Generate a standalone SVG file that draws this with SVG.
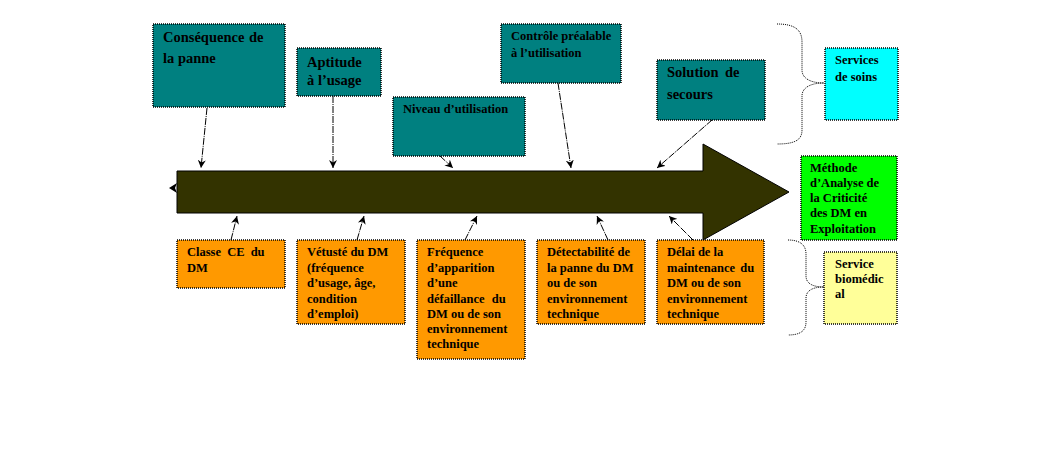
<svg xmlns="http://www.w3.org/2000/svg" width="1050" height="465" viewBox="0 0 1050 465">
<style>
.box{stroke:#000;stroke-width:1.5;stroke-dasharray:1 1}
.teal{fill:#008080}
.orange{fill:#FF9900}
text{font-family:"Liberation Serif","Times New Roman",serif;font-weight:bold;fill:#000}
.big{font-size:14.5px}
.sm{font-size:12.5px}
.conn line{stroke:#000;stroke-width:1;stroke-dasharray:7 1 1 1}
.brace{fill:none;stroke:#000;stroke-width:1;stroke-dasharray:1 1}
</style>
<defs>
<marker id="ah" viewBox="0 0 10 10" refX="10" refY="5" markerWidth="8" markerHeight="8" markerUnits="userSpaceOnUse" orient="auto">
<path d="M0,0 L10,5 L0,10 L3,5 Z" fill="#000"/>
</marker>
</defs>
<rect width="1050" height="465" fill="#fff"/>

<g id="main-arrow">
<polygon points="177,171 703,171 703,144 789,192 703,240 703,213 177,213" fill="#333300" stroke="#000" stroke-width="1"/>
<path d="M169,188 L177,183 L175,188 L177,193 Z" fill="#000"/>
</g>

<g id="n-consequence">
<rect class="box teal" x="153" y="24" width="132" height="83"/>
<text class="big" x="163" y="42">Conséquence <tspan x="249">de</tspan></text>
<text class="big" x="163" y="63">la panne</text>
</g>
<g id="n-aptitude">
<rect class="box teal" x="297" y="48" width="84" height="48"/>
<text class="big" x="307" y="67">Aptitude</text>
<text class="big" x="307" y="85">à l’usage</text>
</g>
<g id="n-niveau">
<rect class="box teal" x="393" y="97" width="132" height="59"/>
<text class="sm" x="403" y="113">Niveau d’utilisation</text>
</g>
<g id="n-controle">
<rect class="box teal" x="501" y="24" width="120" height="59"/>
<text class="sm" x="511" y="40">Contrôle préalable</text>
<text class="sm" x="511" y="57">à l’utilisation</text>
</g>
<g id="n-solution">
<rect class="box teal" x="657" y="60" width="108" height="60"/>
<text class="big" x="667" y="77">Solution <tspan x="725">de</tspan></text>
<text class="big" x="667" y="99">secours</text>
</g>
<g id="n-services-soins">
<rect class="box" fill="#00FFFF" x="825" y="48" width="73" height="72"/>
<text class="sm" x="835" y="64">Services</text>
<text class="sm" x="835" y="81">de soins</text>
</g>
<g id="n-methode">
<rect class="box" fill="#00FF00" x="801" y="156" width="96" height="84"/>
<text class="sm" x="810" y="172">Méthode</text>
<text class="sm" x="810" y="187">d’Analyse de</text>
<text class="sm" x="810" y="202">la Criticité</text>
<text class="sm" x="810" y="217">des DM en</text>
<text class="sm" x="810" y="233">Exploitation</text>
</g>
<g id="n-service-biomedical">
<rect class="box" fill="#FFFF99" x="824" y="252" width="73" height="72"/>
<text class="sm" x="835" y="268">Service</text>
<text class="sm" x="835" y="283">biomédic</text>
<text class="sm" x="835" y="298">al</text>
</g>

<g id="n-classe">
<rect class="box orange" x="177" y="240" width="108" height="48"/>
<text class="sm" x="187" y="256" word-spacing="3">Classe CE du</text>
<text class="sm" x="187" y="272">DM</text>
</g>
<g id="n-vetuste">
<rect class="box orange" x="297" y="240" width="108" height="84"/>
<text class="sm" x="307" y="256">Vétusté du DM</text>
<text class="sm" x="307" y="272">(fréquence</text>
<text class="sm" x="307" y="287">d’usage, âge,</text>
<text class="sm" x="307" y="303">condition</text>
<text class="sm" x="307" y="318">d’emploi)</text>
</g>
<g id="n-frequence">
<rect class="box orange" x="417" y="240" width="108" height="119"/>
<text class="sm" x="427" y="256">Fréquence</text>
<text class="sm" x="427" y="272">d’apparition</text>
<text class="sm" x="427" y="287">d’une</text>
<text class="sm" x="427" y="303" word-spacing="4">défaillance du</text>
<text class="sm" x="427" y="318">DM ou de son</text>
<text class="sm" x="427" y="333">environnement</text>
<text class="sm" x="427" y="348">technique</text>
</g>
<g id="n-detectabilite">
<rect class="box orange" x="537" y="240" width="108" height="84"/>
<text class="sm" x="547" y="256">Détectabilité de</text>
<text class="sm" x="547" y="272">la panne du DM</text>
<text class="sm" x="547" y="287">ou de son</text>
<text class="sm" x="547" y="303">environnement</text>
<text class="sm" x="547" y="318">technique</text>
</g>
<g id="n-delai">
<rect class="box orange" x="657" y="240" width="107" height="84"/>
<text class="sm" x="667" y="256">Délai de la</text>
<text class="sm" x="667" y="272" word-spacing="2">maintenance du</text>
<text class="sm" x="667" y="287">DM ou de son</text>
<text class="sm" x="667" y="303">environnement</text>
<text class="sm" x="667" y="318">technique</text>
</g>

<g id="connectors" class="conn">
<line x1="207" y1="108" x2="201" y2="168" marker-end="url(#ah)"/>
<line x1="333" y1="96" x2="333" y2="168" marker-end="url(#ah)"/>
<line x1="440" y1="156" x2="453" y2="168" marker-end="url(#ah)"/>
<line x1="558" y1="83" x2="571" y2="168" marker-end="url(#ah)"/>
<line x1="712" y1="120" x2="657" y2="168" marker-end="url(#ah)"/>
<line x1="231" y1="240" x2="237" y2="216" marker-end="url(#ah)"/>
<line x1="357" y1="240" x2="364" y2="216" marker-end="url(#ah)"/>
<line x1="465" y1="240" x2="477" y2="216" marker-end="url(#ah)"/>
<line x1="608" y1="240" x2="597" y2="216" marker-end="url(#ah)"/>
<line x1="693" y1="240" x2="669" y2="216" marker-end="url(#ah)"/>
<path class="brace" d="M777,24 C795,24 802,30 802,42 L802,70 C802,78 810,83 824,83 C810,83 802,88 802,96 L802,130 C802,140 795,144 777,144"/>
<path class="brace" d="M788,240 C800,240 806,245 806,254 L806,276 C806,283 812,287 824,287 C812,287 806,291 806,298 L806,322 C806,331 800,335 788,335"/>
</g>
</svg>
